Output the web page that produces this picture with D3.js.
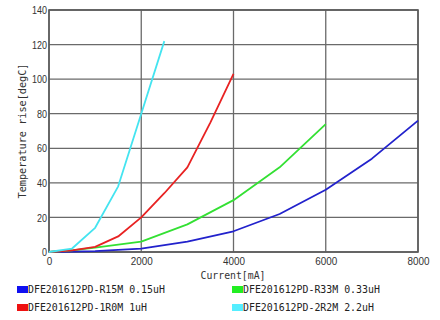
<!DOCTYPE html>
<html><head><meta charset="utf-8">
<script src="https://cdn.jsdelivr.net/npm/d3@7/dist/d3.min.js"></script>
<style>body{margin:0;background:#fff}svg{display:block}</style>
</head><body>
<svg id="c" width="440" height="320"></svg>
<script>
const xTicks = [0, 2000, 4000, 6000, 8000];
const yTicks = [0, 20, 40, 60, 80, 100, 120, 140];
const seriesNames = ["DFE201612PD-R15M 0.15uH", "DFE201612PD-R33M 0.33uH", "DFE201612PD-1R0M 1uH", "DFE201612PD-2R2M 2.2uH"];
const seriesColors = ["#2222cc", "#33e033", "#e82222", "#44e4f0"];
const swatchColors = ["#1010f0", "#22ee22", "#ee1111", "#55eeff"];
const r15mI = [0, 1000, 2000, 3000, 4000, 5000, 6000, 7000, 8000];
const r15mT = [0, 0.5, 2, 6, 12, 22, 36, 54, 76];
const r33mI = [0, 500, 1000, 2000, 3000, 4000, 5000, 6000];
const r33mT = [0, 1, 2.5, 6, 16, 30, 49, 74];
const r1r0mI = [0, 500, 1000, 1500, 2000, 2500, 3000, 3500, 4000];
const r1r0mT = [0, 1, 3, 9, 20, 34, 49, 75, 103];
const r2r2mI = [0, 500, 1000, 1500, 2000, 2500];
const r2r2mT = [0, 2, 14, 38, 80, 122];

const series = [[r15mI, r15mT], [r33mI, r33mT], [r1r0mI, r1r0mT], [r2r2mI, r2r2mT]];

const svg = d3.select("#c");
const L = 49, R = 418, T = 10, B = 252;
const x = d3.scaleLinear().domain([0, 8000]).range([L, R]);
const y = d3.scaleLinear().domain([0, 140]).range([B, T]);

// grid
const g = svg.append("g");
g.selectAll(".hg").data(yTicks).join("line")
  .attr("x1", L).attr("x2", R).attr("y1", d => y(d)).attr("y2", d => y(d))
  .attr("stroke", "#6a6a6a").attr("stroke-width", 1.3);
g.selectAll(".vg").data(xTicks).join("line")
  .attr("y1", T).attr("y2", B).attr("x1", d => x(d)).attr("x2", d => x(d))
  .attr("stroke", "#6a6a6a").attr("stroke-width", 1.3);
g.append("rect").attr("x", L).attr("y", T).attr("width", R - L).attr("height", B - T)
  .attr("fill", "none").attr("stroke", "#5a5a5a").attr("stroke-width", 1.6);

// lines
const line = d3.line().x(d => x(d[0])).y(d => y(d[1]));
series.forEach((s, i) => {
  const pts = s[0].map((v, j) => [v, s[1][j]]);
  svg.append("path").datum(pts).attr("d", line)
    .attr("fill", "none").attr("stroke", seriesColors[i]).attr("stroke-width", 1.8)
    .attr("stroke-linejoin", "round");
});

// axes
const font = "'Liberation Sans', Arial, sans-serif";
const ya = svg.append("g").attr("transform", `translate(${L},0)`)
  .call(d3.axisLeft(y).tickValues(yTicks).tickSize(0).tickPadding(2));
ya.select(".domain").remove();
ya.selectAll("text").attr("font-family", font).attr("font-size", 11.5).attr("fill", "#333")
  .attr("textLength", d => String(d).length * 5).attr("lengthAdjust", "spacingAndGlyphs");
const xa = svg.append("g").attr("transform", `translate(0,${B})`)
  .call(d3.axisBottom(x).tickValues(xTicks).tickSize(0).tickPadding(5).tickFormat(d3.format("d")));
xa.select(".domain").remove();
xa.selectAll("text").attr("font-family", font).attr("font-size", 11.5).attr("fill", "#333")
  .attr("textLength", d => String(d).length * 5.5).attr("lengthAdjust", "spacingAndGlyphs");

const mono = "'DejaVu Sans Mono', 'Liberation Mono', monospace";
svg.append("text").attr("x", 233).attr("y", 279).attr("text-anchor", "middle")
  .attr("font-family", mono).attr("font-size", 11).attr("fill", "#333")
  .attr("textLength", 65).attr("lengthAdjust", "spacingAndGlyphs").text("Current[mA]");
svg.append("text").attr("transform", "translate(26,131) rotate(-90)").attr("text-anchor", "middle")
  .attr("font-family", mono).attr("font-size", 11).attr("fill", "#333")
  .attr("textLength", 135).attr("lengthAdjust", "spacingAndGlyphs").text("Temperature rise[degC]");

// legend
const legPos = [[17, 293], [232, 293], [17, 311], [232, 311]];
seriesNames.forEach((n, i) => {
  const [lx, ly] = legPos[i];
  svg.append("rect").attr("x", lx).attr("y", ly - 7).attr("width", 11).attr("height", 7).attr("fill", swatchColors[i]);
  svg.append("text").attr("x", lx + 11).attr("y", ly).attr("font-family", mono).attr("font-size", 11)
    .attr("fill", "#222").attr("textLength", n.length * 5.95).attr("lengthAdjust", "spacingAndGlyphs").text(n);
});
</script>
</body></html>
